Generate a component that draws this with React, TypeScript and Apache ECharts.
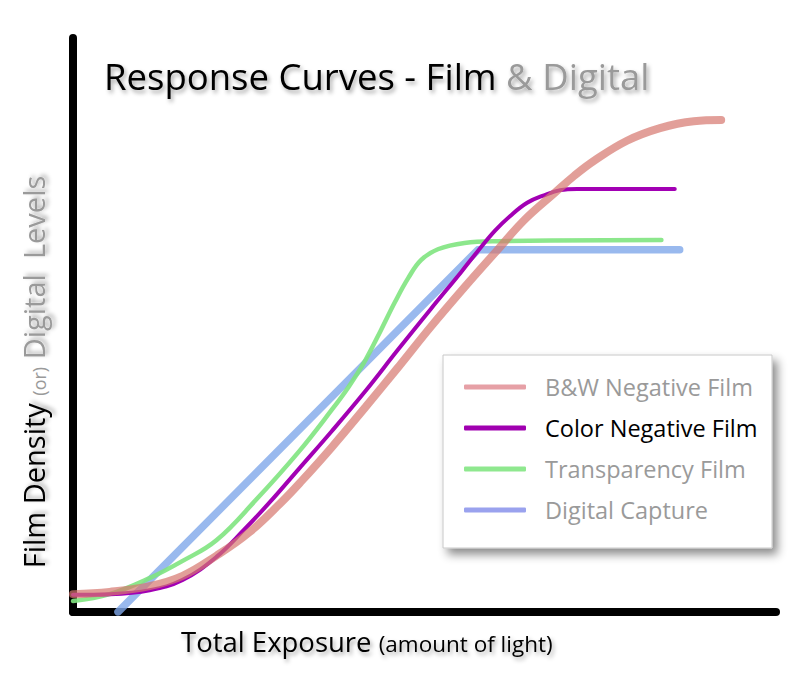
import React, { useEffect, useRef } from 'react';
import * as echarts from 'echarts';

// Exposure (0-100) and density / level (0-100) readings for each curve
const bwExposure = [0, 5.2, 10.9, 15.6, 20.4, 25.0, 29.7, 32.5, 36.8, 41.6, 46.3, 50.9, 55.7, 60.4, 64.2, 68.5, 71.3, 74.1, 78.8, 83.5, 88.3, 92.2];
const bwDensity = [3.1, 3.5, 4.5, 6.3, 9.8, 13.8, 19.2, 22.8, 28.7, 35.7, 42.7, 49.7, 56.6, 63.1, 68.3, 73.0, 76.0, 78.6, 82.1, 84.3, 85.5, 85.7];

const colorExposure = [0, 5.2, 10.9, 15.6, 20.4, 24.3, 27.9, 32.1, 36.8, 41.6, 46.3, 50.9, 55.2, 57.6, 60.0, 62.2, 64.6, 67.0, 69.3, 71.7, 85.6];
const colorDensity = [3.0, 3.1, 3.8, 5.6, 9.6, 14.3, 19.0, 24.9, 31.5, 38.5, 45.8, 52.8, 59.2, 62.9, 66.4, 69.0, 71.3, 72.6, 73.5, 73.7, 73.7];

const transExposure = [0, 5.2, 10.9, 15.6, 20.4, 26.0, 32.1, 36.8, 39.2, 41.6, 43.8, 45.8, 47.7, 49.5, 51.9, 55.7, 60.4, 83.7];
const transDensity = [1.9, 3.1, 5.9, 8.9, 12.5, 19.5, 27.9, 35.2, 39.2, 43.9, 49.1, 54.0, 58.2, 61.3, 63.2, 64.3, 64.6, 64.8];

const digitalExposure = [6.4, 57.6, 86.3];
const digitalLevels = [0, 63.1, 63.1];

const seriesNames = ['B&W Negative Film', 'Color Negative Film', 'Transparency Film', 'Digital Capture'];

const zip = (xs: number[], ys: number[]) => xs.map((x, i) => [x, ys[i]]);

const FONT = '"Open Sans", "Noto Sans", sans-serif';
const GRAY = '#9a9a9a';
const NB = '\u00a0';

export default function App() {
  const ref = useRef<HTMLDivElement>(null);

  useEffect(() => {
    if (!ref.current) return;
    const chart = echarts.init(ref.current, undefined, { renderer: 'svg' });
    const axisCommon = {
      type: 'value' as const,
      min: 0,
      max: 100,
      axisLine: {
        show: true,
        onZero: false,
        lineStyle: { color: '#000', width: 8, cap: 'round' },
      },
      axisTick: { show: false },
      axisLabel: { show: false },
      splitLine: { show: false },
    };
    const textShadow = {
      textShadowColor: 'rgba(0,0,0,0.35)',
      textShadowBlur: 4,
      textShadowOffsetX: 2,
      textShadowOffsetY: 3,
    };
    chart.setOption({
      animation: false,
      backgroundColor: '#ffffff',
      title: {
        text: `{a|Response Curves - Film${NB}}{b|& Digital}`,
        left: 104,
        top: 57,
        padding: 0,
        textStyle: {
          rich: {
            a: { fontFamily: FONT, fontSize: 36.5, fontWeight: 'normal', color: '#000', ...textShadow },
            b: { fontFamily: FONT, fontSize: 36.5, fontWeight: 'normal', color: GRAY, ...textShadow },
          },
        },
      },
      grid: { left: 73, right: 24, top: 38, bottom: 67 },
      xAxis: { ...axisCommon },
      yAxis: { ...axisCommon },
      legend: {
        orient: 'vertical',
        left: 459,
        top: 370,
        z: 10,
        itemWidth: 62,
        itemHeight: 5,
        itemGap: 17,
        icon: 'roundRect',
        data: [
          { name: seriesNames[0], textStyle: { color: GRAY } },
          { name: seriesNames[1], textStyle: { color: '#000' } },
          { name: seriesNames[2], textStyle: { color: GRAY } },
          { name: seriesNames[3], textStyle: { color: GRAY } },
        ],
        textStyle: { fontFamily: FONT, fontSize: 23.5, padding: [0, 0, 0, 14] },
      },
      graphic: [
        {
          type: 'rect',
          z: 5,
          shape: { x: 443, y: 355, width: 329, height: 193 },
          style: {
            fill: '#fff',
            stroke: '#c8c8c8',
            lineWidth: 1,
            shadowBlur: 10,
            shadowColor: 'rgba(0,0,0,0.45)',
            shadowOffsetX: 5,
            shadowOffsetY: 6,
          },
        },
        {
          type: 'text',
          x: 33,
          y: 372,
          rotation: Math.PI / 2,
          style: {
            text: `{a|Film Density${NB}}{b|(or)}{c|${NB}Digital${NB}${NB}Levels}`,
            align: 'center',
            verticalAlign: 'middle',
            rich: {
              a: { fontFamily: FONT, fontSize: 29, lineHeight: 29, verticalAlign: 'middle', fill: '#000', ...textShadow },
              b: { fontFamily: FONT, fontSize: 18, lineHeight: 21, verticalAlign: 'bottom', fill: GRAY },
              c: { fontFamily: FONT, fontSize: 29, lineHeight: 29, verticalAlign: 'middle', fill: GRAY, ...textShadow },
            },
          },
        },
        {
          type: 'text',
          x: 181,
          y: 641,
          style: {
            text: `{a|Total Exposure${NB}}{b|(amount of light)}`,
            align: 'left',
            verticalAlign: 'middle',
            rich: {
              a: { fontFamily: FONT, fontSize: 27.5, lineHeight: 28, verticalAlign: 'middle', fill: '#000', ...textShadow },
              b: { fontFamily: FONT, fontSize: 22.5, lineHeight: 25, verticalAlign: 'bottom', fill: '#000', ...textShadow },
            },
          },
        },
      ],
      series: [
        {
          name: seriesNames[3],
          type: 'line',
          data: zip(digitalExposure, digitalLevels),
          showSymbol: false,
          symbol: 'none',
          smooth: false,
          itemStyle: { color: '#9aa2ee' },
          lineStyle: { color: 'rgba(128,168,234,0.8)', width: 7.5, cap: 'round', join: 'round' },
          z: 2,
        },
        {
          name: seriesNames[2],
          type: 'line',
          data: zip(transExposure, transDensity),
          showSymbol: false,
          symbol: 'none',
          smooth: 0.4,
          itemStyle: { color: '#8fe88f' },
          lineStyle: { color: 'rgba(128,228,128,0.9)', width: 4.5, cap: 'round' },
          z: 3,
        },
        {
          name: seriesNames[1],
          type: 'line',
          data: zip(colorExposure, colorDensity),
          showSymbol: false,
          symbol: 'none',
          smooth: 0.4,
          itemStyle: { color: '#a000b0' },
          lineStyle: { color: '#a200b4', width: 4, cap: 'round' },
          z: 4,
        },
        {
          name: seriesNames[0],
          type: 'line',
          data: zip(bwExposure, bwDensity),
          showSymbol: false,
          symbol: 'none',
          smooth: 0.4,
          itemStyle: { color: '#e6a0a6' },
          lineStyle: { color: 'rgba(214,118,110,0.7)', width: 8, cap: 'round' },
          z: 5,
        },
      ],
    });
    return () => chart.dispose();
  }, []);

  return <div ref={ref} style={{ position: 'absolute', left: 0, top: 0, width: 800, height: 679 }} />;
}
